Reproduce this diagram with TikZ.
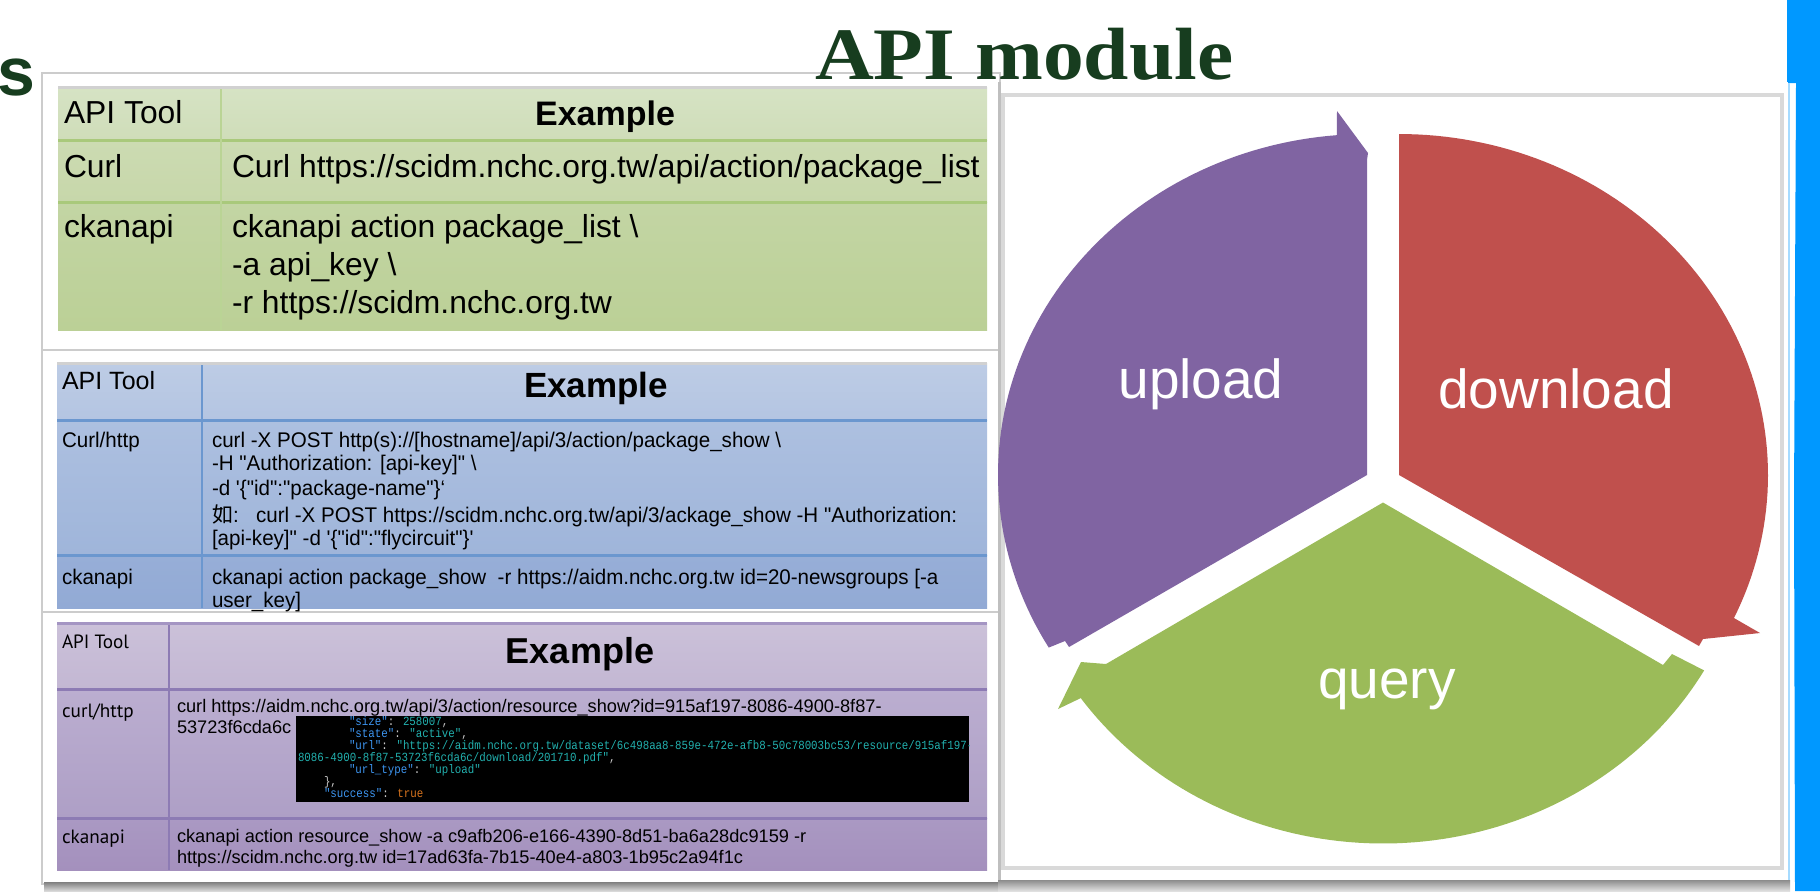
\documentclass[tikz,border=0pt]{standalone}
\usepackage{fontspec}
\setmainfont{Liberation Sans}[Ligatures=TeXOff]
\newfontfamily\titlefont{Liberation Serif}[Ligatures=TeXOff, FakeStretch=1.1]
\newfontfamily\termfont{Liberation Mono}[Ligatures=TeXOff]
\newfontfamily\cjkfont{Noto Sans CJK TC}
\newfontfamily\colfont{PT Sans}[Ligatures=TeXOff]
\newfontfamily\narrowfont{Liberation Sans}[Ligatures=TeXOff, FakeStretch=0.97]
\definecolor{titlegreen}{HTML}{173D1F}
\definecolor{brush}{HTML}{0098FF}
\definecolor{upc}{HTML}{8064A2}
\definecolor{downc}{HTML}{C0504D}
\definecolor{queryc}{HTML}{9BBB59}
\definecolor{gA}{HTML}{D6E3C4}\definecolor{gB}{HTML}{CFDDB9}
\definecolor{gC}{HTML}{CCDBB2}\definecolor{gD}{HTML}{C7D7AA}
\definecolor{gE}{HTML}{C3D5A4}\definecolor{gF}{HTML}{BBD096}
\definecolor{gline}{HTML}{A9C97B}
\definecolor{bA}{HTML}{BDCCE5}\definecolor{bB}{HTML}{B4C5E2}
\definecolor{bC}{HTML}{ADC0E0}\definecolor{bD}{HTML}{9FB5DA}
\definecolor{bE}{HTML}{97AED7}\definecolor{bF}{HTML}{92AAD5}
\definecolor{bline}{HTML}{6B97CF}
\definecolor{pA}{HTML}{CBC1D9}\definecolor{pB}{HTML}{C3B7D3}
\definecolor{pC}{HTML}{BBAED0}\definecolor{pD}{HTML}{AE9FC6}
\definecolor{pE}{HTML}{AA99C3}\definecolor{pF}{HTML}{A490BD}
\definecolor{pline}{HTML}{8D7BB4}
\definecolor{tkey}{HTML}{3D95F0}
\definecolor{tval}{HTML}{22B0AE}
\definecolor{ttrue}{HTML}{D8741E}
\definecolor{tpunct}{HTML}{C8C8C8}
\tikzset{
  lbl/.style={inner sep=0pt, outer sep=0pt, anchor=base west, text=black},
  ctr/.style={inner sep=0pt, outer sep=0pt, anchor=base, text=black},
  wheeltxt/.style={inner sep=0pt, anchor=base, text=white, font=\fontsize{27.5}{30}\selectfont},
  card/.style={fill=white, draw=black!20, line width=1.2},
  fA/.style={font=\fontsize{15.9}{18}\selectfont},
  fAh/.style={font=\fontsize{17}{20}\bfseries\selectfont},
  fB/.style={font=\fontsize{10.6}{12}\narrowfont\selectfont},
  fBt/.style={font=\fontsize{12.5}{14}\selectfont},
  fBh/.style={font=\fontsize{17.5}{20}\bfseries\selectfont},
  fC/.style={font=\fontsize{9.1}{11}\selectfont},
  fCc/.style={font=\fontsize{9.6}{11}\colfont\selectfont},
  fCh/.style={font=\fontsize{18}{20}\bfseries\selectfont},
  term/.style={inner sep=0pt, outer sep=0pt, anchor=base west, font=\fontsize{5.4}{6}\termfont\selectfont},
}
\newcommand{\tk}[1]{\textcolor{tkey}{#1}}
\newcommand{\tv}[1]{\textcolor{tval}{#1}}
\newcommand{\tp}[1]{\textcolor{tpunct}{#1}}
\newcommand{\tline}[1]{\scalebox{1}[1.15]{#1}}
\begin{document}
\begin{tikzpicture}[x=0.5pt, y=-0.5pt]
\useasboundingbox (0,0) rectangle (1820,891);
\fill[white] (0,0) rectangle (1820,891);

% blue brush bar
\fill[brush] (1787,0) -- (1820,0) -- (1820,891) -- (1795,891) -- (1794,500) -- (1796,83) -- (1787,83) -- cycle;
\fill[brush!35] (1784,83) rectangle (1790,891);

% ---------- cards ----------
\path[card] (42,73) rectangle (1000,350);
\path[card] (42,350) rectangle (1000,612);
\path[card] (42,612) rectangle (1000,884);
\shade[top color=black!50, bottom color=black!15] (44,882) rectangle (1000,891);

% ---------- table 1 (green) ----------
\shade[top color=gA, bottom color=gB] (58,87) rectangle (987,140);
\shade[top color=gC, bottom color=gD] (58,140) rectangle (987,202);
\shade[top color=gE, bottom color=gF] (58,202) rectangle (987,330);
\draw[gline, line width=1.5] (58,140) -- (987,140) (58,202) -- (987,202);
\draw[gline!80!white, line width=1] (221,87) -- (221,330);
\draw[black!18, line width=1.5] (58,87) -- (987,87);
\node[lbl, fA] (t1h1) at (64,123) {API Tool};
\node[ctr, fAh] (t1h2) at (605,125) {Example};
\node[lbl, fA] (t1r1) at (64,177) {Curl};
\node[lbl, fA] (t1r1b) at (232,177) {Curl https://scidm.nchc.org.tw/api/action/package\_list};
\node[lbl, fA] (t1r2) at (64,237) {ckanapi};
\node[lbl, fA] (t1r2a) at (232,237) {ckanapi action package\_list \textbackslash};
\node[lbl, fA] (t1r2b) at (232,275) {-a api\_key \textbackslash};
\node[lbl, fA] (t1r2c) at (232,313) {-r https://scidm.nchc.org.tw};

% ---------- table 2 (blue) ----------
\shade[top color=bA, bottom color=bB] (57,363) rectangle (987,420);
\shade[top color=bC, bottom color=bD] (57,420) rectangle (987,555);
\shade[top color=bE, bottom color=bF] (57,555) rectangle (987,608);
\draw[bline, line width=1.5] (57,420) -- (987,420) (57,555) -- (987,555);
\draw[bline, line width=1] (202,363) -- (202,608);
\draw[black!18, line width=1.5] (57,363) -- (987,363);
\node[lbl, fBt] (t2h1) at (62,389) {API Tool};
\node[ctr, fBh] (t2h2) at (596,397) {Example};
\node[lbl, fB] (t2r1) at (62,447) {Curl/http};
\node[lbl, fB] (t2r1a) at (212,447) {curl -X POST http(s)://[hostname]/api/3/action/package\_show \textbackslash};
\node[lbl, fB] (t2r1b) at (212,470) {-H "Authorization: [api-key]" \textbackslash};
\node[lbl, fB] (t2r1c) at (212,495) {-d '\{"id":"package-name"\}‘};
\node[lbl, fB] (t2r1d) at (212,522) {{\cjkfont 如}:\ \ \ curl -X POST https://scidm.nchc.org.tw/api/3/ackage\_show -H "Authorization:};
\node[lbl, fB] (t2r1e) at (212,545) {[api-key]" -d '\{"id":"flycircuit"\}'};
\node[lbl, fB] (t2r2) at (62,584) {ckanapi};
\node[lbl, fB] (t2r2a) at (212,584) {ckanapi action package\_show\ \ -r https://aidm.nchc.org.tw id=20-newsgroups [-a};
\node[lbl, fB] (t2r2b) at (212,607) {user\_key]};

% ---------- table 3 (purple) ----------
\shade[top color=pA, bottom color=pB] (57,623) rectangle (987,689);
\shade[top color=pC, bottom color=pD] (57,689) rectangle (987,818);
\shade[top color=pE, bottom color=pF] (57,818) rectangle (987,870);
\draw[pline, line width=1.5] (57,689) -- (987,689) (57,818) -- (987,818);
\draw[pline, line width=1] (169,623) -- (169,870);
\draw[pline!80, line width=1.5] (57,623) -- (987,623);
\node[lbl, fCc] (t3h1) at (62,648) {API Tool};
\node[ctr, fCh] (t3h2) at (580,663) {Example};
\node[lbl, fCc] (t3r1) at (62,717) {curl/http};
\node[lbl, fC] (t3r1a) at (177,712) {curl https://aidm.nchc.org.tw/api/3/action/resource\_show?id=915af197-8086-4900-8f87-};
\node[lbl, fC] (t3r1b) at (177,733) {53723f6cda6c};
\node[lbl, fCc] (t3r2) at (62,843) {ckanapi};
\node[lbl, fC] (t3r2a) at (177,842) {ckanapi action resource\_show -a c9afb206-e166-4390-8d51-ba6a28dc9159 -r};
\node[lbl, fC] (t3r2b) at (177,863) {https://scidm.nchc.org.tw id=17ad63fa-7b15-40e4-a803-1b95c2a94f1c};

% terminal screenshot
\fill[black] (296,716) rectangle (969,802);
\begin{scope}
\clip (296,716) rectangle (969,802);
\node[term] (tm1) at (349,725) {\tline{\tk{"size"}\tp{: }\tv{258007}\tp{,}}};
\node[term] (tm2) at (349,737) {\tline{\tk{"state"}\tp{: }\tv{"active"}\tp{,}}};
\node[term] (tm3) at (349,749) {\tline{\tk{"url"}\tp{: }\tv{"https://aidm.nchc.org.tw/dataset/6c498aa8-859e-472e-afb8-50c78003bc53/resource/915af197-}}};
\node[term] (tm4) at (298,761) {\tline{\tv{8086-4900-8f87-53723f6cda6c/download/201710.pdf"}\tp{,}}};
\node[term] (tm5) at (349,773) {\tline{\tk{"url\_type"}\tp{: }\tv{"upload"}}};
\node[term] (tm6) at (324,785) {\tline{\tp{\},}}};
\node[term] (tm7) at (324,797) {\tline{\tk{"success"}\tp{: }\textcolor{ttrue}{true}}};
\end{scope}

% ---------- right panel ----------
\fill[white] (998,82) rectangle (1788,884);
\draw[black!15, line width=2] (1003,95) rectangle (1782,868);
\draw[black!25, line width=1.5] (999,82) -- (999,884);
\shade[top color=black!45, bottom color=black!12] (998,880) rectangle (1790,891);

% cycle segments
\coordinate (P0) at (1367,475);
\coordinate (R0) at (1399,475);
\coordinate (G0) at (1383,502.5);
\fill[upc] (P0) -- (1069,647) -- (1065,641) --
  plot[domain=149.6:265.3, samples=80] ({1367+369*cos(\x)}, {475+341*sin(\x)})
  -- (1337,111) -- (1368,153) -- (1367,160) -- cycle;
\fill[downc] (R0) -- (1399,171) --
  plot[domain=270:384.8, samples=80] ({1399+369*cos(\x)}, {475+341*sin(\x)})
  -- (1760,633) -- (1703,639) -- (1699,646) -- cycle;
\fill[queryc] (G0) -- (1663,665) -- (1672,654) --
  plot[domain=29.5:145, samples=80] ({1383+369*cos(\x)}, {502.5+341*sin(\x)})
  -- (1058,709) -- (1081,662) -- (1106,664) -- cycle;

\node[wheeltxt] (upload) at (1201,398) {upload};
\node[wheeltxt] (download) at (1556,408) {download};
\node[wheeltxt] (query) at (1387,698) {query};

% titles (drawn on top)
\node[lbl, text=titlegreen, font=\fontsize{34}{38}\bfseries\selectfont] (stitle) at (-3,95) {s};
\node[lbl, text=titlegreen, font=\fontsize{37}{40}\titlefont\bfseries\selectfont] (title) at (815,79) {API module};
\end{tikzpicture}
\end{document}
